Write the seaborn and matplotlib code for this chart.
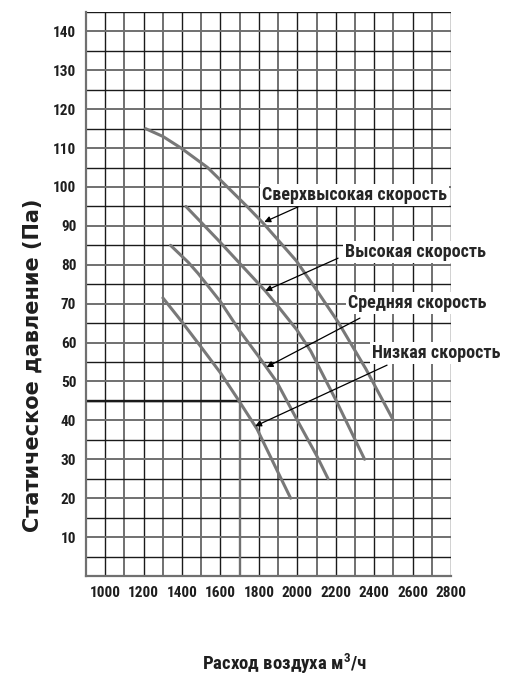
import seaborn as sns
import matplotlib.pyplot as plt
import pandas as pd

# Расход воздуха (м3/ч) -> статическое давление (Па)
x_ultra = [1210, 1300, 1395, 1533, 1636, 1738, 1826, 1995, 2093, 2212, 2357, 2500]
y_ultra = [115, 113, 110, 105, 100, 95, 90.5, 81, 74, 65.3, 53.2, 40]
x_high = [1420, 1585, 1833, 1900, 1997, 2070, 2203, 2350]
y_high = [95, 86.5, 73.3, 69.3, 63.3, 57.8, 45, 30]
x_mid = [1340, 1433, 1483, 1600, 1700, 1808, 1894, 2000, 2100, 2160]
y_mid = [85, 80.6, 77.8, 70.5, 63, 55.8, 49.8, 40, 31, 25]
x_low = [1300, 1395, 1500, 1600, 1686, 1790, 1892, 1965]
y_low = [71.5, 65.6, 58.8, 52.2, 45.8, 37.8, 27.4, 20]

speeds = ["Сверхвысокая скорость", "Высокая скорость", "Средняя скорость", "Низкая скорость"]
x_ticks = list(range(1000, 2801, 200))
y_ticks = list(range(10, 141, 10))

# подписи и стрелки
label_pos = [(1816, 97.9), (2248, 83.3), (2264, 70.2), (2389, 57.3)]
arrow_tail = [(2004, 94.9), (2212, 81.7), (2326, 66.3), (2467, 54.2)]
arrow_head = [(1828, 91), (1833, 73.3), (1840, 53.7), (1780, 38.5)]

rows = []
for name, xs, ys in zip(speeds, [x_ultra, x_high, x_mid, x_low], [y_ultra, y_high, y_mid, y_low]):
    for x, y in zip(xs, ys):
        rows.append({"speed": name, "flow": x, "pressure": y})
df = pd.DataFrame(rows)

sns.set_theme(style="white")
plt.rcParams["font.family"] = ["Roboto Condensed", "DejaVu Sans"]
plt.rcParams["font.stretch"] = "condensed"
plt.rcParams["font.weight"] = "bold"
plt.rcParams["mathtext.fontset"] = "custom"
plt.rcParams["mathtext.rm"] = "Roboto Condensed:bold"

fig = plt.figure(figsize=(5.29, 6.75), dpi=100)
ax = fig.add_axes([0.1626, 0.1467, 0.69, 0.8356])

# сетка
for v in range(900, 2801, 100):
    major = v % 200 == 0
    ax.axvline(v, color="#1a1a1a" if major else "#707070", lw=1.0 if major else 1.4, zorder=1)
for h in range(0, 146, 5):
    major = h % 10 == 0
    ax.axhline(h, color="#707070" if major else "#1a1a1a", lw=1.4 if major else 1.0, zorder=1)
ax.hlines(45, 900, 1700, color="#1a1a1a", lw=1.7, zorder=1)
ax.vlines(1700, 0, 45, color="#707070", lw=1.7, zorder=1)

sns.lineplot(data=df, x="flow", y="pressure", hue="speed", palette=["#787878"] * 4,
             linewidth=2.2, legend=False, ax=ax, zorder=3)

for name, (tx, ty), tail, head in zip(speeds, label_pos, arrow_tail, arrow_head):
    ax.annotate("", xy=head, xytext=tail,
                arrowprops=dict(arrowstyle="-|>", color="black", lw=0.9, mutation_scale=9,
                                shrinkA=0, shrinkB=0), zorder=4)
    ax.text(tx, ty, name, fontsize=13, fontweight="bold", ha="left", va="center", zorder=5,
            clip_on=False, bbox=dict(boxstyle="square,pad=0.12", fc="white", ec="none"))

ax.set_xlim(900, 2800)
ax.set_ylim(0, 145)
ax.set_xticks(x_ticks)
ax.set_yticks(y_ticks)
ax.tick_params(axis="both", length=0, labelsize=11, pad=7, colors="#1e1e1e")
for lab in ax.get_xticklabels() + ax.get_yticklabels():
    lab.set_fontweight("bold")
for s in ["left", "bottom"]:
    ax.spines[s].set_color("#707070")
    ax.spines[s].set_linewidth(1.6)
for s in ["top", "right"]:
    ax.spines[s].set_visible(False)

ax.set_xlabel(r"Расход воздуха м$\mathregular{^3}$/ч", fontsize=13.5, fontweight="bold",
              va="top", color="#1e1e1e")
ax.xaxis.set_label_coords(0.545, -0.135)
ax.set_ylabel("Статическое давление (Па)", fontsize=15, fontweight="bold", va="center",
              family=["DejaVu Sans"], fontstretch="normal", color="#1e1e1e")
ax.yaxis.set_label_coords(-0.145, 0.374)

fig.savefig("out.png", dpi=100)
